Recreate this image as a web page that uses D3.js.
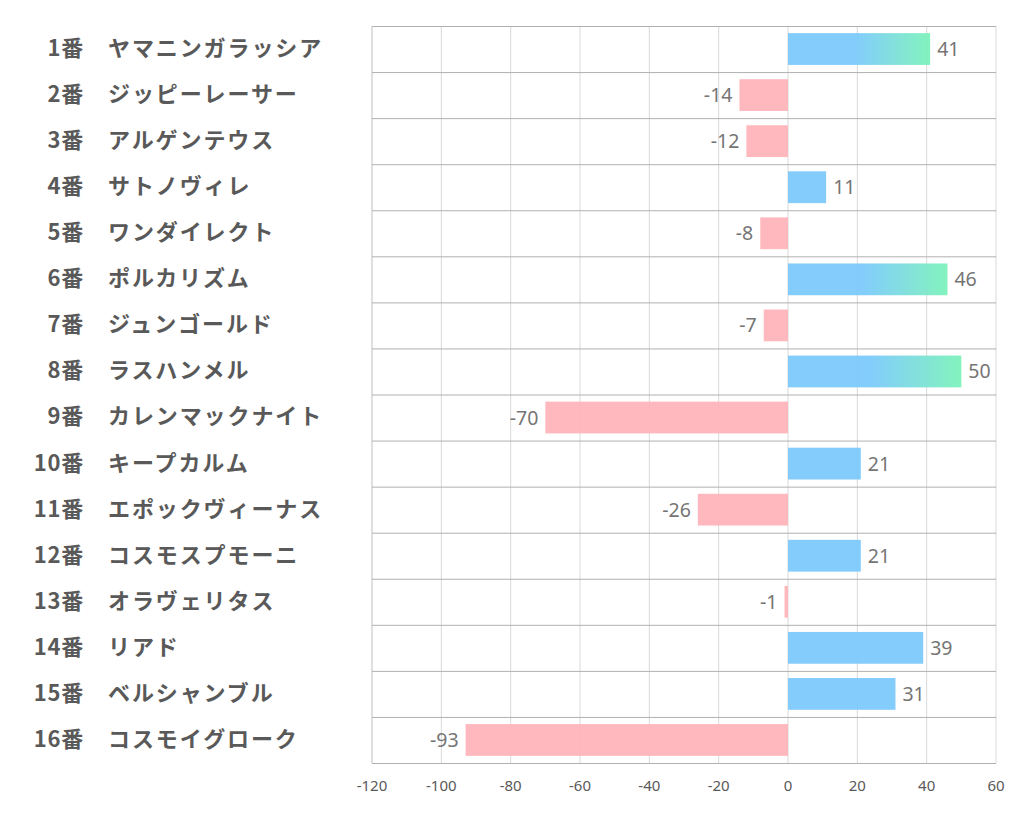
<!DOCTYPE html>
<html><head><meta charset="utf-8">
<script src="https://cdn.jsdelivr.net/npm/d3@7"></script>
<style>body{margin:0;background:#fff}</style>
</head><body>
<svg id="c" width="1022" height="834"></svg>
<script>
const numbers = ["1番","2番","3番","4番","5番","6番","7番","8番","9番","10番","11番","12番","13番","14番","15番","16番"];
const names = ["ヤマニンガラッシア","ジッピーレーサー","アルゲンテウス","サトノヴィレ","ワンダイレクト","ポルカリズム","ジュンゴールド","ラスハンメル","カレンマックナイト","キープカルム","エポックヴィーナス","コスモスプモーニ","オラヴェリタス","リアド","ベルシャンブル","コスモイグローク"];
const values = [41,-14,-12,11,-8,46,-7,50,-70,21,-26,21,-1,39,31,-93];
const ticks = [-120,-100,-80,-60,-40,-20,0,20,40,60];

const svg = d3.select("#c");
const x = d3.scaleLinear().domain([-120,60]).range([372,996]);
const y = d3.scaleBand().domain(d3.range(16)).range([26,763]).paddingInner(0).paddingOuter(0);

const defs = svg.append("defs");
const g = defs.append("linearGradient").attr("id","grad").attr("x1","0").attr("x2","1").attr("y1","0").attr("y2","0");
g.append("stop").attr("offset","0.47").attr("stop-color","#78c8fc");
g.append("stop").attr("offset","1").attr("stop-color","#78f2b8");

// vertical grid
svg.append("g").selectAll("line").data(ticks).join("line")
  .attr("x1",d=>x(d)).attr("x2",d=>x(d)).attr("y1",26).attr("y2",763)
  .attr("stroke",d=>d===-120?"#bfbfbf":"#d9d9d9").attr("stroke-width",1);
// horizontal grid
svg.append("g").selectAll("line").data(d3.range(17)).join("line")
  .attr("x1",372).attr("x2",996)
  .attr("y1",i=>i<16?y(i)+0.5:763.5).attr("y2",i=>i<16?y(i)+0.5:763.5)
  .attr("stroke","#b0b0b0").attr("stroke-width",1);

// bars
const bh = y.bandwidth()*0.69;
svg.append("g").selectAll("rect").data(values).join("rect")
  .attr("x",d=>x(Math.min(0,d))).attr("width",d=>Math.abs(x(d)-x(0)))
  .attr("y",(d,i)=>y(i)+(y.bandwidth()-bh)/2).attr("height",bh)
  .attr("fill",d=>d<0?"#ffb3b8":(d>=40?"url(#grad)":"#78c8fc"))
  .attr("opacity",0.92);

// value labels
svg.append("g").selectAll("text").data(values).join("text")
  .attr("x",d=>d<0?x(d)-7:x(d)+7)
  .attr("y",(d,i)=>y(i)+y.bandwidth()/2)
  .attr("dy","0.36em")
  .attr("text-anchor",d=>d<0?"end":"start")
  .attr("font-family","'Noto Sans', sans-serif").attr("font-size",19.5)
  .attr("fill","#757575").text(d=>d);

// axis tick labels
svg.append("g").selectAll("text").data(ticks).join("text")
  .attr("x",d=>x(d)).attr("y",791).attr("text-anchor","middle")
  .attr("font-family","'Liberation Sans Narrow','Noto Sans', sans-serif").attr("font-size",15)
  .attr("fill","#595959").text(d=>d);

// category labels
const lab = svg.append("g").attr("font-family","'Noto Sans CJK JP', sans-serif").attr("font-weight","bold").attr("font-size",22).attr("fill","#595959");
lab.selectAll("text.n").data(numbers).join("text").attr("class","n")
  .attr("x",84).attr("y",(d,i)=>y(i)+y.bandwidth()/2-1).attr("dy","0.36em")
  .attr("letter-spacing",0.8)
  .attr("text-anchor","end").text(d=>d);
lab.selectAll("text.m").data(names).join("text").attr("class","m")
  .attr("x",108).attr("y",(d,i)=>y(i)+y.bandwidth()/2-1).attr("dy","0.36em")
  .attr("letter-spacing",1.9)
  .attr("text-anchor","start").text(d=>d);
</script>
</body></html>
